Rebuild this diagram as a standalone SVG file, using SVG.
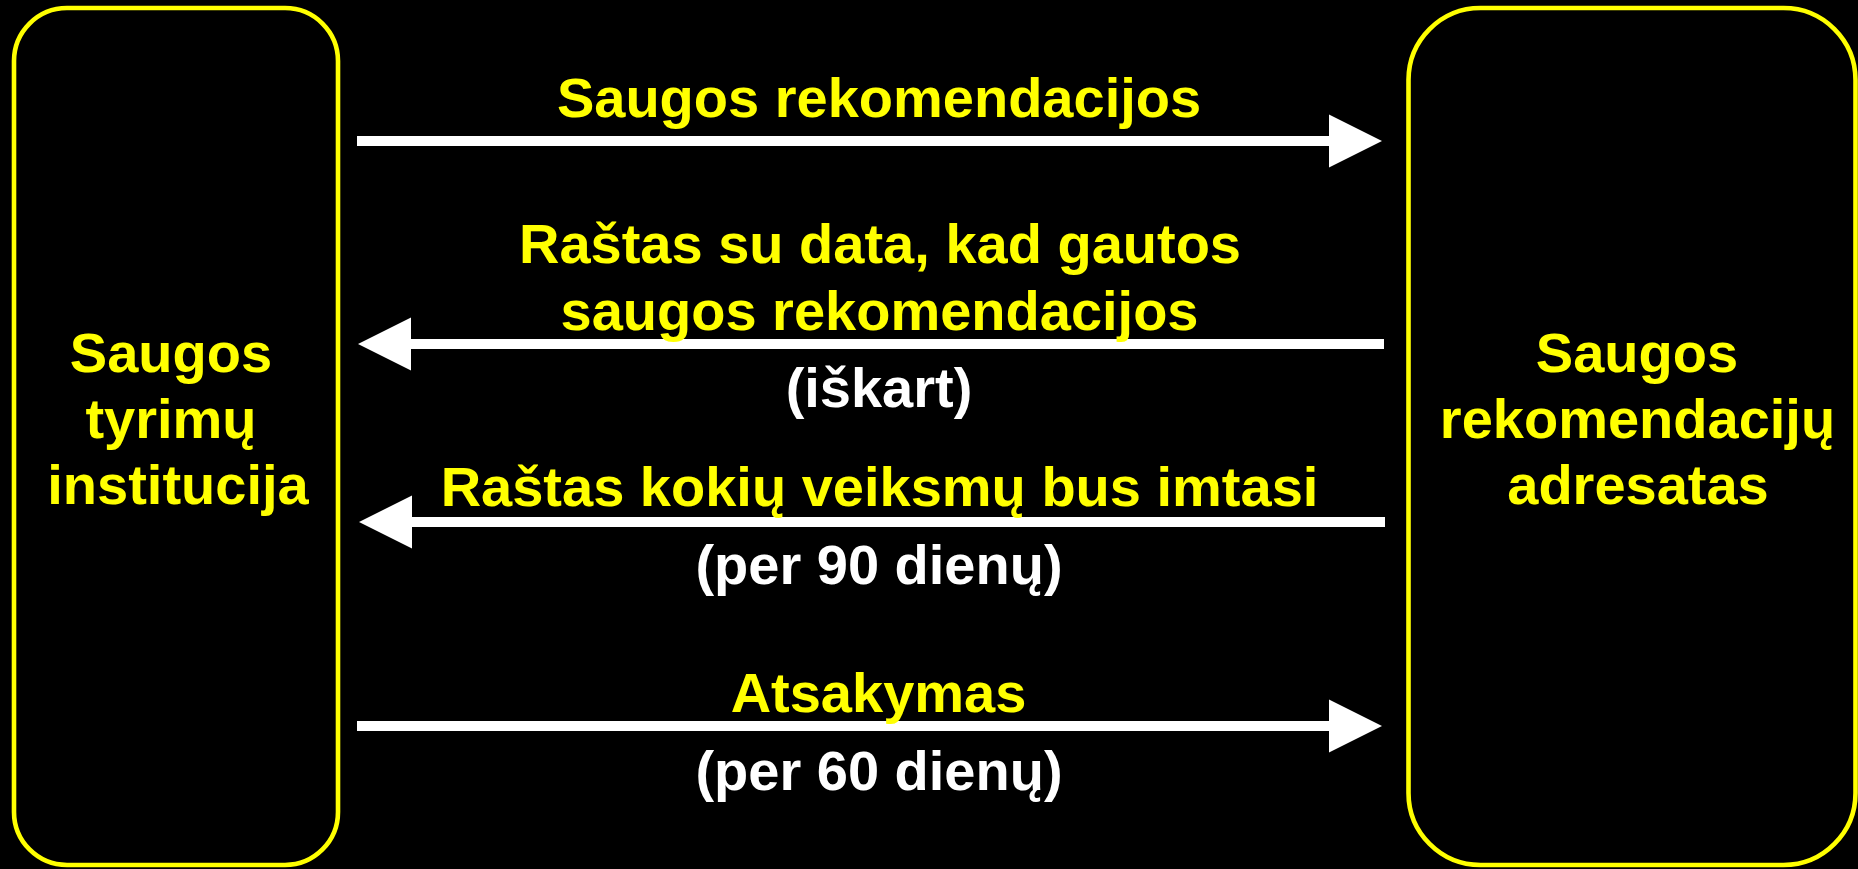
<svg xmlns="http://www.w3.org/2000/svg" width="1858" height="869" viewBox="0 0 1858 869">
<style>
.box{fill:#000;stroke:#FFFF00;stroke-width:4.6}
.t{font-family:"Liberation Sans",Arial,sans-serif;font-weight:bold;font-size:56px;text-anchor:middle}
.y{fill:#FFFF00}
.w{fill:#FFFFFF}
.ar{stroke:#FFFFFF;stroke-width:10;fill:none}
</style>
<defs>
<marker id="head" markerUnits="userSpaceOnUse" markerWidth="54" markerHeight="54" refX="1" refY="26.5" orient="auto" overflow="visible">
<path d="M0,0 L53,26.5 L0,53 Z" fill="#FFFFFF"/>
</marker>
</defs>
<rect width="1858" height="869" fill="#000"/>
<g id="node-institucija">
<rect class="box" x="14" y="8" width="324" height="857" rx="53" ry="53"/>
<text class="t y" x="171" y="372">Saugos</text>
<text class="t y" x="171" y="438">tyrimų</text>
<text class="t y" x="178" y="504">institucija</text>
</g>
<g id="node-adresatas">
<rect class="box" x="1408.5" y="8" width="447" height="857" rx="72" ry="72"/>
<text class="t y" x="1637" y="372">Saugos</text>
<text class="t y" x="1637.5" y="438">rekomendacijų</text>
<text class="t y" x="1638" y="504">adresatas</text>
</g>
<g id="connectors">
<line class="ar" x1="357" y1="141" x2="1330" y2="141" marker-end="url(#head)"/>
<line class="ar" x1="1384" y1="344" x2="410" y2="344" marker-end="url(#head)"/>
<line class="ar" x1="1385" y1="522" x2="411" y2="522" marker-end="url(#head)"/>
<line class="ar" x1="357" y1="726" x2="1330" y2="726" marker-end="url(#head)"/>
</g>
<g id="labels">
<text class="t y" x="879" y="117">Saugos rekomendacijos</text>
<text class="t y" x="880" y="263">Raštas su data, kad gautos</text>
<text class="t y" x="879.5" y="330">saugos rekomendacijos</text>
<text class="t w" x="879" y="407">(iškart)</text>
<text class="t y" x="879.5" y="506">Raštas kokių veiksmų bus imtasi</text>
<text class="t w" x="879" y="584">(per 90 dienų)</text>
<text class="t y" x="878.5" y="712">Atsakymas</text>
<text class="t w" x="879" y="790">(per 60 dienų)</text>
</g>
</svg>
